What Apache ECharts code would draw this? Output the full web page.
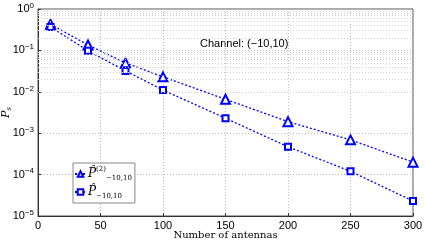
<!DOCTYPE html>
<html><head><meta charset="utf-8">
<script src="https://cdn.jsdelivr.net/npm/echarts@6/dist/echarts.min.js"></script>
<style>html,body{margin:0;padding:0;background:#fff}#c{width:425px;height:242px}</style>
</head><body><div id="c"></div>
<script>
const antennas = [10, 40, 70, 100, 150, 200, 250, 300];
const p2Values = [0.43, 0.135, 0.05, 0.023, 0.0066, 0.0019, 0.00069, 0.0002];
const pValues  = [0.37, 0.098, 0.032, 0.011, 0.0023, 0.00047, 0.00012, 0.000023];
const xTicks = [0, 50, 100, 150, 200, 250, 300];
const yExponents = [0, -1, -2, -3, -4, -5];
const annotation = 'Channel: (\u221210,10)';

const minorVals = [];
for (let d = -5; d <= -1; d++) for (let k = 2; k <= 9; k++) minorVals.push(k * Math.pow(10, d));

const blue = '#0000ff';
const chart = echarts.init(document.getElementById('c'));
const sansFont = 'Liberation Sans';
const serifFont = 'DejaVu Serif';

chart.setOption({
  animation: false,
  grid: { left: 38, right: 12, top: 9, bottom: 26, show: true, borderColor: '#555', borderWidth: 1,
    outerBoundsMode: 'none', containLabel: false },
  graphic: [{
    type: 'text', left: 200, top: 38,
    style: { text: annotation, font: '11px ' + sansFont, fill: '#000' }
  }],
  legend: {
    orient: 'vertical', left: 73, top: 163,
    backgroundColor: '#fff', borderColor: '#888', borderWidth: 1,
    padding: [3, 3, 3, 1], itemGap: 4, itemWidth: 11, itemHeight: 7,
    textStyle: {
      fontFamily: serifFont, fontSize: 11, color: '#000', padding: [0, 0, 0, -3],
      rich: {
        p: { fontFamily: serifFont, fontStyle: 'italic', fontSize: 12, lineHeight: 16 },
        sup: { fontFamily: serifFont, fontSize: 7, verticalAlign: 'top', lineHeight: 9 },
        sub: { fontFamily: serifFont, fontSize: 7, verticalAlign: 'bottom', lineHeight: 9 }
      }
    },
    formatter: function (n) {
      if (n === 'p2') return '{p|P\u0302}{sup|(2)}{sub|\u221210,10}';
      return '{p|P\u0302}{sub|\u221210,10}';
    },
    data: ['p2', 'p']
  },
  xAxis: {
    type: 'value', min: 0, max: 300, interval: 50,
    name: 'Number of antennas', nameLocation: 'middle', nameGap: 14, nameMoveOverlap: false,
    nameTextStyle: { fontFamily: serifFont, fontSize: 10, color: '#000' },
    axisLine: { onZero: false, lineStyle: { color: '#333' } },
    axisTick: { inside: true, length: 3, lineStyle: { color: '#333' } },
    axisLabel: { fontFamily: sansFont, fontSize: 11, color: '#000', margin: 4,
      formatter: v => xTicks.includes(v) ? String(v) : '' },
    splitLine: { show: true, lineStyle: { color: '#bbb', type: [1, 2] } }
  },
  yAxis: {
    type: 'log', logBase: 10, min: 1e-5, max: 1,
    name: '{i|P}{s|s}', nameLocation: 'middle', nameGap: 25, nameRotate: 90, nameMoveOverlap: false,
    nameTextStyle: { color: '#000', rich: {
      i: { fontFamily: serifFont, fontStyle: 'italic', fontSize: 11, lineHeight: 14 },
      s: { fontFamily: serifFont, fontStyle: 'italic', fontSize: 7, verticalAlign: 'bottom', lineHeight: 8 } } },
    axisLine: { lineStyle: { color: '#333' } },
    axisTick: { inside: true, length: 3, lineStyle: { color: '#333' } },
    axisLabel: {
      fontFamily: sansFont, fontSize: 11, color: '#000', margin: 4,
      formatter: function (v) {
        const e = Math.round(Math.log10(v));
        if (!yExponents.includes(e)) return '';
        return '{b|10}{s|' + (e < 0 ? '\u2212' + (-e) : e) + '}';
      },
      rich: {
        b: { fontFamily: sansFont, fontSize: 11, lineHeight: 15 },
        s: { fontFamily: sansFont, fontSize: 8, verticalAlign: 'top', lineHeight: 9 }
      }
    },
    splitLine: { show: true, lineStyle: { color: '#bbb', type: [1, 2] } }
  },
  series: [{
    name: 'p2', type: 'line', data: antennas.map((x, i) => [x, p2Values[i]]),
    symbol: 'emptyTriangle', symbolSize: 9,
    lineStyle: { color: blue, width: 1.3, type: [2, 2] },
    itemStyle: { color: blue, borderWidth: 1.3 },
    markLine: {
      silent: true, symbol: 'none', label: { show: false },
      lineStyle: { color: '#d0d0d0', type: [1, 2], width: 1 },
      data: minorVals.map(v => ({ yAxis: v }))
    }
  }, {
    name: 'p', type: 'line', data: antennas.map((x, i) => [x, pValues[i]]),
    symbol: 'emptyRect', symbolSize: 6,
    lineStyle: { color: blue, width: 1.3, type: [2, 2] },
    itemStyle: { color: blue, borderWidth: 1.3 }
  }]
});
</script></body></html>
